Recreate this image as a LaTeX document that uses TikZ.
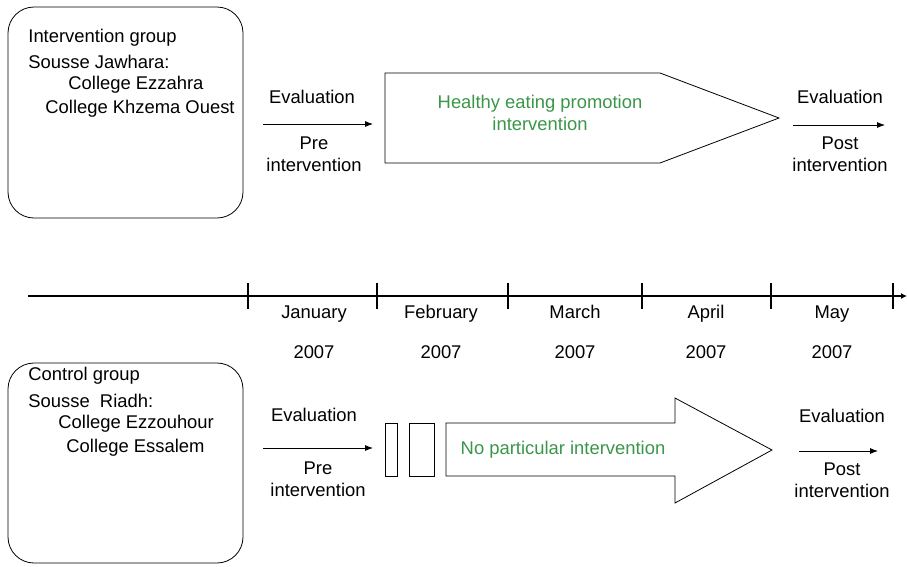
\documentclass[tikz,border=0pt]{standalone}
\usepackage{fontspec}
\setmainfont{Liberation Sans}
\usetikzlibrary{arrows.meta}
\definecolor{grn}{RGB}{58,150,72}

\begin{document}
\begin{tikzpicture}[x=1pt,y=-1pt,line width=0.8pt,
    every node/.style={font=\fontsize{18.4}{22}\selectfont, inner sep=0pt},
    arr/.style={-{Latex[length=8pt,width=6pt]}},
    txt/.style={anchor=west}]
\useasboundingbox (0,0) rectangle (907,566);
% intervention group
\draw[rounded corners=26pt] (8,7) rectangle (243,218);
\node[txt] (igrp) at (28,38) {Intervention group};
\node[txt] (isite) at (28,62) {Sousse Jawhara:};
\node[txt] (icol1) at (68,85) {College Ezzahra};
\node[txt] (icol2) at (45,109) {College Khzema Ouest};
\node (ievpre) at (312,97) {Evaluation};
\node[align=center] (ipre) at (314,154) {Pre\\intervention};
\coordinate (ipres) at (263,124);
\coordinate (ipree) at (373,124);
\draw[arr] (ipres) -- (ipree);
\draw (385,73) -- (660,73) -- (779,118) -- (660,163) -- (385,163) -- cycle;
\node[align=center, text=grn] (heal) at (540,113) {Healthy eating promotion\\intervention};
\node (ievpost) at (840,97) {Evaluation};
\node[align=center] (ipost) at (840,154) {Post\\intervention};
\coordinate (iposts) at (793,125);
\coordinate (iposte) at (885,125);
\draw[arr] (iposts) -- (iposte);
% time line
\coordinate (tls) at (28,296);
\coordinate (tle) at (907,296);
\draw[line width=1.6pt, -{Latex[length=6pt,width=6pt]}] (tls) -- (tle);
\foreach \x in {248,377,508,642,771,893}
    \draw[line width=1.3pt] (\x,283) -- (\x,309);
\foreach \x/\m in {314/January, 441/February, 575/March, 706/April, 832/May} {
    \node[anchor=base] (m\m) at (\x,318.5) {\m};
    \node[anchor=base] (y\m) at (\x,358.5) {2007};
}
% control group
\draw[rounded corners=26pt] (8,363) rectangle (243,563);
\node[txt] (cgrp) at (28,376) {Control group};
\node[txt] (csite) at (28,401) {Sousse \ Riadh:};
\node[txt] (ccol1) at (58,424) {College Ezzouhour};
\node[txt] (ccol2) at (66,448) {College Essalem};
\node (cevpre) at (314,415) {Evaluation};
\node[align=center] (cpre) at (318,479) {Pre\\intervention};
\coordinate (cpres) at (263,448);
\coordinate (cpree) at (373,448);
\draw[arr] (cpres) -- (cpree);
\draw (385,423) rectangle (397,476);
\draw (409,423) rectangle (434,476);
\draw (446,423) -- (675,423) -- (675,398) -- (772,450) -- (675,503) -- (675,476) -- (446,476) -- cycle;
\node[text=grn] (none) at (563,450) {No particular intervention};
\node (cevpost) at (842,416) {Evaluation};
\node[align=center] (cpost) at (842,480) {Post\\intervention};
\coordinate (cposts) at (799,451);
\coordinate (cposte) at (878,451);
\draw[arr] (cposts) -- (cposte);
\end{tikzpicture}
\end{document}
